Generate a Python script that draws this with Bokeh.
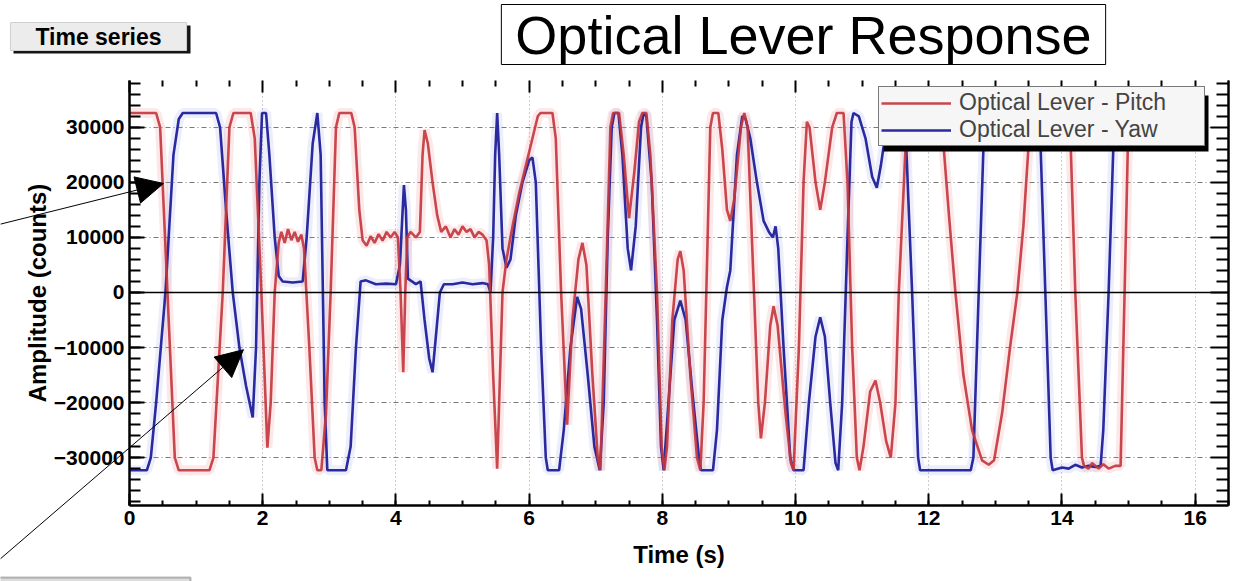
from bokeh.plotting import figure
from bokeh.models import (Range1d, LinearAxis, SingleIntervalTicker, FixedTicker, Span, Label,
                          Legend, LegendItem, Arrow, NormalHead, BoxAnnotation)
from bokeh.embed import file_html
from bokeh.resources import INLINE

# ---------------- data ----------------
pitch_t = [0.00, 0.40, 0.46, 0.57, 0.68, 0.74, 1.20, 1.26, 1.40, 1.50, 1.56, 1.82, 1.88, 1.98,
           2.07, 2.12, 2.18, 2.24, 2.28, 2.33, 2.38, 2.43, 2.48, 2.53, 2.58, 2.62, 2.70, 2.78,
           2.82, 2.88, 2.95, 3.02, 3.10, 3.15, 3.33, 3.38, 3.45, 3.50, 3.56, 3.62, 3.68, 3.74,
           3.80, 3.86, 3.92, 3.98, 4.03, 4.07, 4.11, 4.14, 4.17, 4.22, 4.30, 4.36, 4.40, 4.43,
           4.48, 4.55, 4.62, 4.68, 4.75, 4.82, 4.88, 4.94, 5.00, 5.06, 5.12, 5.18, 5.24, 5.30,
           5.36, 5.40, 5.46, 5.52, 5.55, 5.60, 5.66, 5.75, 5.85, 5.95, 6.05, 6.13, 6.17, 6.35,
           6.40, 6.48, 6.57, 6.65, 6.74, 6.80, 6.86, 6.95, 7.03, 7.07, 7.15, 7.22, 7.26, 7.35,
           7.42, 7.50, 7.58, 7.65, 7.70, 7.76, 7.82, 7.92, 7.99, 8.03, 8.07, 8.15, 8.23, 8.27,
           8.32, 8.42, 8.52, 8.57, 8.62, 8.68, 8.72, 8.76, 8.84, 8.90, 8.97, 9.02, 9.08, 9.18,
           9.23, 9.28, 9.36, 9.44, 9.48, 9.54, 9.62, 9.67, 9.73, 9.85, 9.93, 9.97, 10.05, 10.12,
           10.17, 10.21, 10.30, 10.37, 10.44, 10.55, 10.62, 10.72, 10.78, 10.85, 10.92, 10.96,
           11.02, 11.12, 11.20, 11.27, 11.36, 11.43, 11.50, 11.55, 11.65, 11.70, 12.18, 12.22,
           12.31, 12.40, 12.52, 12.65, 12.80, 12.90, 12.98, 13.10, 13.22, 13.33, 13.42, 13.50,
           13.56, 14.08, 14.13, 14.20, 14.30, 14.33, 14.40, 14.45, 14.55, 14.62, 14.70, 14.80,
           14.88, 14.94, 15.00]
pitch_y = [32600, 32600, 30000, 0, -30000, -32300, -32300, -30000, 0, 30000, 32600, 32600, 28000, 0,
           -28200, -20000, 0, 9000, 11000, 9000, 11500, 9500, 11000, 9200, 10500, 8000, -10000, -30000,
           -32300, -32300, -22000, 0, 30000, 32600, 32600, 30000, 15000, 9500, 8500, 10200, 9000, 10600,
           9400, 11000, 10000, 11000, 10000, 0, -14500, 0, 10000, 11000, 10000, 11000, 25000, 29500,
           27000, 20000, 14000, 11000, 12000, 10000, 11500, 10500, 12000, 11000, 11500, 10000, 11000, 10500,
           9500, 5000, -15000, -32000, -20000, 0, 6000, 12000, 18000, 23000, 28000, 32000, 32600, 32600,
           28000, 0, -24000, -5000, 6000, 9000, 5000, -15000, -30000, -32300, 0, 30000, 32600, 32600,
           25000, 13500, 22000, 31000, 32600, 32600, 25000, 0, -28000, -32300, -28000, -5000, 6000, 7500,
           4000, -15000, -30000, -32300, -20000, 10000, 30000, 32600, 32600, 26000, 15000, 13000, 17000, 30000,
           32600, 30000, 5000, -20000, -26500, -20000, -6000, -2500, -6000, -22000, -31000, -32300, -10000, 20000,
           31000, 30000, 20000, 15000, 20000, 30000, 32600, 32600, 20000, -10000, -30000, -32300,
           -28000, -18000, -16000, -20000, -27000, -30000, -20000, 0, 26000, 32600, 32600, 27000,
           13000, 0, -15000, -25000, -30500, -31300, -30500, -22000, -10000, 0, 12000, 27000,
           32600, 32600, 27000, 0, -30000, -31500, -32000, -31000, -32000, -31200, -32000, -31500,
           -31500, 0, 32600]

yaw_t = [0.00, 0.26, 0.32, 0.40, 0.54, 0.66, 0.74, 0.80, 1.30, 1.36, 1.45, 1.55, 1.65, 1.75, 1.85,
         1.90, 1.95, 1.99, 2.05, 2.10, 2.18, 2.24, 2.30, 2.45, 2.60, 2.66, 2.75, 2.82, 2.87, 2.93,
         2.97, 3.25, 3.32, 3.40, 3.47, 3.55, 3.70, 3.85, 4.00, 4.06, 4.12, 4.15, 4.18, 4.30, 4.37,
         4.43, 4.50, 4.55, 4.60, 4.66, 4.72, 4.85, 5.00, 5.15, 5.30, 5.38, 5.42, 5.46, 5.49, 5.52,
         5.55, 5.60, 5.66, 5.72, 5.80, 5.90, 6.00, 6.05, 6.10, 6.18, 6.25, 6.28, 6.45, 6.52, 6.62,
         6.72, 6.78, 6.88, 6.98, 7.06, 7.12, 7.18, 7.24, 7.28, 7.34, 7.40, 7.48, 7.53, 7.60, 7.68,
         7.72, 7.76, 7.84, 7.92, 7.98, 8.02, 8.08, 8.18, 8.27, 8.35, 8.45, 8.55, 8.58, 8.76, 8.82,
         8.90, 8.97, 9.02, 9.12, 9.20, 9.25, 9.32, 9.42, 9.52, 9.60, 9.66, 9.70, 9.74, 9.82, 9.92,
         9.97, 10.12, 10.20, 10.30, 10.37, 10.44, 10.52, 10.60, 10.64, 10.70, 10.78, 10.84, 10.87,
         10.95, 11.05, 11.15, 11.22, 11.28, 11.34, 11.40, 11.62, 11.66, 11.75, 11.84, 11.87, 12.63,
         12.67, 12.75, 12.82, 12.86, 13.64, 13.68, 13.75, 13.83, 13.86, 14.00, 14.10, 14.20, 14.30,
         14.40, 14.50, 14.58, 14.62, 14.70, 14.77, 14.80, 15.00]
yaw_y = [-32300, -32300, -30000, -20000, 0, 25000, 31500, 32600, 32600, 30000, 15000, 0, -10000, -17000, -22700,
         -10000, 20000, 32600, 32600, 25000, 10000, 3000, 2000, 1800, 2000, 10000, 27000, 32600, 25000, -20000,
         -32300, -32300, -28000, -10000, 2000, 2200, 1500, 1600, 1500, 5000, 19500, 15000, 2500, 1500, 2000,
         -5000, -12000, -14500, -8000, 0, 1500, 1500, 1800, 1500, 1700, 1500, 0, 10000, 25000, 32600,
         25000, 8000, 4500, 6000, 14000, 20000, 24000, 24500, 20000, -10000, -30000, -32300, -32300, -25000, -10000,
         -800, -3000, -15000, -28000, -32300, -20000, 10000, 30000, 32600, 32600, 25000, 8000, 4000, 12000, 30000,
         32600, 32000, 20000, -5000, -28000, -32300, -22000, -5000, -1500, -5000, -18000, -30000, -32300, -32300, -25000,
         -5000, 1000, 4000, 25000, 32000, 31500, 28000, 20000, 13000, 11000, 10000, 12000, 8000, -10000, -30000,
         -32300, -32300, -20000, -8000, -4500, -8000, -20000, -31000, -32300, -20000, 10000, 31000, 32600,
         32000, 28000, 21000, 19000, 23000, 28000, 32600, 32600, 27000, 0, -30000, -32300, -32300,
         -30000, 0, 26000, 32600, 32600, 26000, 0, -30000, -32300, -31800, -32000, -31300, -31800,
         -31500, -31700, -31500, -25000, 0, 26000, 32600, 32600]

series_labels = ["Optical Lever - Pitch", "Optical Lever - Yaw"]
title_text = "Optical Lever Response"
button_text = "Time series"
x_label = "Time (s)"
y_label = "Amplitude (counts)"

# arrow annotations (in the chart's data coordinates: tail -> tip)
arrow_tails = [(-1.94, 12400), (-1.94, -48400)]
arrow_tips = [(0.51, 19800), (1.71, -10400)]

RED = "#c3373f"
BLUE = "#2a2a9e"
FONT = "Liberation Sans"

W, H = 1239, 581
X0, X1 = 0, 16.5
Y0, Y1 = -38700, 38500
FL, FR, FT, FB = 129, 11, 80, 76  # frame borders (left, right, top, bottom)

# ---------------- main chart ----------------
p = figure(width=W, height=H, x_range=Range1d(X0, X1), y_range=Range1d(Y0, Y1),
           output_backend="svg", toolbar_location=None,
           min_border_left=FL, min_border_right=FR, min_border_top=FT, min_border_bottom=FB,
           x_axis_label=x_label, y_axis_label=y_label)
p.background_fill_color = "white"
p.border_fill_color = "white"
p.outline_line_color = None

xt = SingleIntervalTicker(interval=2, num_minor_ticks=4)
yt = SingleIntervalTicker(interval=10000, num_minor_ticks=5)

bx = p.xaxis[0]
ly = p.yaxis[0]
bx.ticker = xt
ly.ticker = yt
p.xgrid.ticker = xt
p.ygrid.ticker = yt
p.xgrid.grid_line_color = "#9a9a9a"
p.xgrid.grid_line_dash = "1 3"
p.xgrid.grid_line_width = 1
p.ygrid.grid_line_color = "#7a7a7a"
p.ygrid.grid_line_dash = "5 3 1 3"
p.ygrid.grid_line_width = 1

for ax, tin, mtin, lstand in ((bx, 12, 5, 13), (ly, 15, 11, 0)):
    ax.axis_line_color = "black"
    ax.axis_line_width = 2.5
    ax.major_tick_in = tin
    ax.major_tick_out = 0
    ax.minor_tick_in = mtin
    ax.minor_tick_out = 0
    ax.major_tick_line_width = 2
    ax.minor_tick_line_width = 2
    ax.major_tick_line_color = "black"
    ax.minor_tick_line_color = "black"
    ax.major_label_text_font = FONT
    ax.major_label_text_font_style = "bold"
    ax.major_label_text_font_size = "21px"
    ax.major_label_text_color = "black"
    ax.major_label_standoff = 5
    ax.axis_label_text_font = FONT
    ax.axis_label_text_font_style = "bold"
    ax.axis_label_text_font_size = "24px"
    ax.axis_label_text_color = "black"
    ax.axis_label_standoff = lstand

# mirrored tick marks on the right and top (no labels: ticks given as minor ticks only)
y_major_vals = list(range(-30000, 30001, 10000))
y_minor_vals = [v for v in range(-38000, 38001, 2000) if v % 10000 != 0]
x_major_vals = list(range(0, 17, 2))
x_minor_vals = [v / 2 for v in range(0, 33) if v % 4 != 0]

ra1 = LinearAxis(ticker=FixedTicker(ticks=[], minor_ticks=y_major_vals),
                 axis_line_width=2, axis_line_color="black",
                 minor_tick_in=18, minor_tick_out=0, minor_tick_line_width=2,
                 major_tick_in=0, major_tick_out=0, major_label_standoff=0)
ra2 = LinearAxis(ticker=FixedTicker(ticks=[], minor_ticks=y_minor_vals),
                 axis_line_width=2, axis_line_color="black",
                 minor_tick_in=12, minor_tick_out=0, minor_tick_line_width=2,
                 major_tick_in=0, major_tick_out=0, major_label_standoff=0)
p.add_layout(ra1, "right")
p.add_layout(ra2, "right")
ta1 = LinearAxis(ticker=FixedTicker(ticks=[], minor_ticks=x_major_vals), axis_line_color=None,
                 minor_tick_in=12, minor_tick_out=0, minor_tick_line_width=2,
                 major_tick_in=0, major_tick_out=0, major_label_standoff=0)
ta2 = LinearAxis(ticker=FixedTicker(ticks=[], minor_ticks=x_minor_vals), axis_line_color=None,
                 minor_tick_in=6, minor_tick_out=0, minor_tick_line_width=2,
                 major_tick_in=0, major_tick_out=0, major_label_standoff=0)
p.add_layout(ta1, "above")
p.add_layout(ta2, "above")

p.add_layout(Span(location=0, dimension="width", line_color="black", line_width=1.5))

# soft halos like the reference's blur
p.line(yaw_t, yaw_y, line_color="#8c9cf0", line_width=10, line_alpha=0.17)
p.line(pitch_t, pitch_y, line_color="#f08a8a", line_width=10, line_alpha=0.2)
yaw_r = p.line(yaw_t, yaw_y, line_color=BLUE, line_width=2.6)
pitch_r = p.line(pitch_t, pitch_y, line_color=RED, line_width=2.6, line_alpha=0.92)

# legend with drop shadow
p.add_layout(BoxAnnotation(left=754, right=1079, bottom=354, top=410,
                           left_units="screen", right_units="screen",
                           bottom_units="screen", top_units="screen",
                           fill_color="black", fill_alpha=1, line_color=None))
legend = Legend(items=[LegendItem(label=series_labels[0], renderers=[pitch_r]),
                       LegendItem(label=series_labels[1], renderers=[yaw_r])],
                location=(749, 359), orientation="vertical",
                border_line_color="black", border_line_width=1.5,
                background_fill_color="#f6f6f6", background_fill_alpha=1,
                label_text_font=FONT, label_text_font_size="23px",
                glyph_width=70, label_standoff=8, padding=2, spacing=0,
                label_width=243, margin=0)
p.add_layout(legend, "center")

# ---------------- transparent overlay for items outside the plot frame ----------------
sx = (X1 - X0) / (W - FL - FR)
sy = (Y1 - Y0) / (H - FT - FB)
ov = figure(width=W, height=H, output_backend="svg", toolbar_location=None,
            x_range=Range1d(X0 - FL * sx, X1 + FR * sx),
            y_range=Range1d(Y0 - FB * sy, Y1 + FT * sy),
            min_border=0, x_axis_location=None, y_axis_location=None, title_location=None)
ov.xgrid.visible = False
ov.ygrid.visible = False
ov.background_fill_alpha = 0
ov.border_fill_alpha = 0
ov.outline_line_color = None
ov.margin = (-H, 0, 0, 0)

# title box
ov.add_layout(Label(x=803, y=H - 34, x_units="screen", y_units="screen", text=title_text,
                    text_font=FONT, text_font_size="54px", text_color="black",
                    text_align="center", text_baseline="middle",
                    border_line_color="black", border_line_width=1,
                    background_fill_color="white", padding=(14, 0)))
# "Time series" button: dark drop shadow + face
ov.add_layout(BoxAnnotation(left=13, right=190, bottom=H - 53, top=H - 25,
                            left_units="screen", right_units="screen",
                            bottom_units="screen", top_units="screen",
                            fill_color="#151515", fill_alpha=1, line_color=None))
ov.add_layout(Label(x=98, y=H - 36, x_units="screen", y_units="screen", text=button_text,
                    text_font=FONT, text_font_size="23px", text_font_style="bold",
                    text_color="black", text_align="center", text_baseline="middle",
                    border_line_color="#d0d0d0", border_line_width=1,
                    background_fill_color="#ececec", padding=(25, 1)))
# top edge of a second button, cut by the bottom of the page
ov.add_layout(BoxAnnotation(left=-5, right=190, bottom=-20, top=H - 577,
                            left_units="screen", right_units="screen",
                            bottom_units="screen", top_units="screen",
                            fill_color="#dcdcdc", fill_alpha=1,
                            line_color="#222222", line_width=2))
# arrows
for (xs_, ys_), (xe_, ye_) in zip(arrow_tails, arrow_tips):
    ov.add_layout(Arrow(end=NormalHead(size=27, fill_color="black", line_color="black"),
                        x_start=xs_, y_start=ys_, x_end=xe_, y_end=ye_,
                        line_color="black", line_width=1))

open("out.html", "w").write(file_html([p, ov], INLINE))
